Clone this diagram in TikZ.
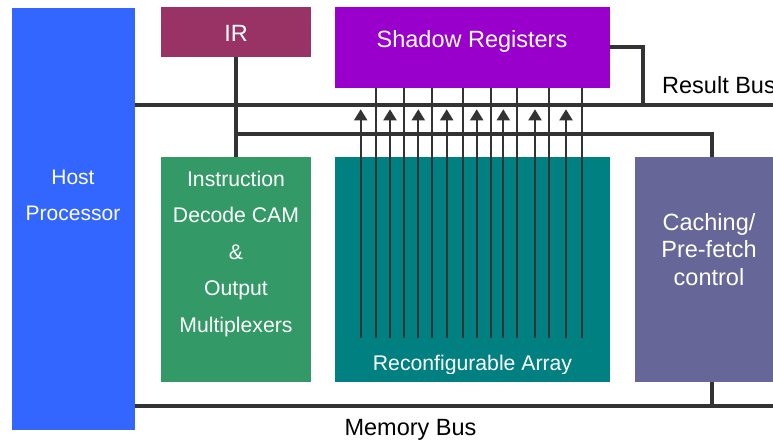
\documentclass[tikz,border=0pt]{standalone}
\usepackage{fontspec}
\setmainfont{Liberation Sans}
\usetikzlibrary{arrows.meta}

\definecolor{hostblue}{HTML}{3366FF}
\definecolor{irred}{HTML}{993366}
\definecolor{shadowviolet}{HTML}{9900CC}
\definecolor{decodegreen}{HTML}{339966}
\definecolor{arrayteal}{HTML}{008080}
\definecolor{cachepurple}{HTML}{666699}
\definecolor{linegray}{HTML}{333333}

\tikzset{
  box/.style={rectangle, inner sep=0pt, outer sep=0pt},
  lbl/.style={text=white, align=center, inner sep=0pt},
  buslbl/.style={text=black, inner sep=0pt},
  bigtext/.style={font=\fontsize{23.5}{27.5}\selectfont},
  midtext/.style={font=\fontsize{21.2}{36.5}\selectfont},
  bus/.style={draw=linegray, line width=4.5pt},
  wire/.style={draw=linegray, line width=2pt},
  upwire/.style={wire, -{Triangle[width=13pt,length=11pt]}},
}

\begin{document}
\begin{tikzpicture}[x=1pt, y=-1pt]
  \clip (0,0) rectangle (773,442);

  % functional blocks
  \node[box, fill=hostblue, minimum width=123pt, minimum height=422pt] (host) at (73.5,219) {};
  \node[box, fill=irred, minimum width=150pt, minimum height=50pt] (ir) at (236,32) {};
  \node[box, fill=shadowviolet, minimum width=275pt, minimum height=81pt] (shadow) at (472.5,47.5) {};
  \node[box, fill=decodegreen, minimum width=150pt, minimum height=225pt] (decode) at (236,269.5) {};
  \node[box, fill=arrayteal, minimum width=275pt, minimum height=225pt] (array) at (472.5,269.5) {};
  \node[box, fill=cachepurple, minimum width=148pt, minimum height=225pt] (cache) at (709,269.5) {};

  % block labels
  \node[lbl, font=\fontsize{21}{36}\selectfont] (hostlbl) at (73,195) {Host\\Processor};
  \node[lbl, bigtext] (irlbl) at (236,33) {IR};
  \node[lbl, bigtext, anchor=base] (shadowlbl) at (472,47) {Shadow Registers};
  \node[lbl, midtext] (decodelbl) at (236,254)
    {Instruction\\Decode CAM\\\&\\Output\\Multiplexers};
  \node[lbl, bigtext] (cachelbl) at (709,249.5) {Caching/\\Pre-fetch\\control};
  \begin{scope}
    \clip (335,157) rectangle (610,373);
    \node[lbl, midtext, anchor=base] (arraylbl) at (472.5,370) {Reconfigurable Array};
  \end{scope}

  % bus end points and bends
  \coordinate (rbE) at (773,105);
  \coordinate (lbE) at (712,134);
  \coordinate (mbE) at (773,406);
  \coordinate (sbT) at (643,47);
  \coordinate (sbB) at (643,105);

  % result bus
  \draw[bus] (host.east |- rbE) -- (rbE);
  \draw[bus] (shadow.east |- sbT) -- (sbT) -- (sbB);
  % instruction path and control bus
  \draw[bus] (ir.south) -- (decode.north);
  \draw[bus] (ir.south |- lbE) -- (lbE) -- (lbE |- cache.north);
  % memory bus
  \draw[bus] (host.east |- mbE) -- (mbE);
  \draw[bus] (cache.south -| lbE) -- (lbE |- mbE);

  % shadow register lines into the array
  \foreach \x in {376,404.3,431.7,462.7,491,516.7,549,581.7}
    \draw[wire] (shadow.south -| \x,0) -- (\x,338);
  % array outputs up to the result bus
  \foreach \x in {360.7,390,418.3,446.7,476.7,503.3,535,566}
    \draw[upwire] (\x,338) -- (\x,109.3);

  % bus labels
  \node[buslbl, bigtext, anchor=base west] (resultlbl) at (662,93) {Result Bus};
  \node[buslbl, bigtext, anchor=base] (memlbl) at (410.5,435.7) {Memory Bus};
\end{tikzpicture}
\end{document}
